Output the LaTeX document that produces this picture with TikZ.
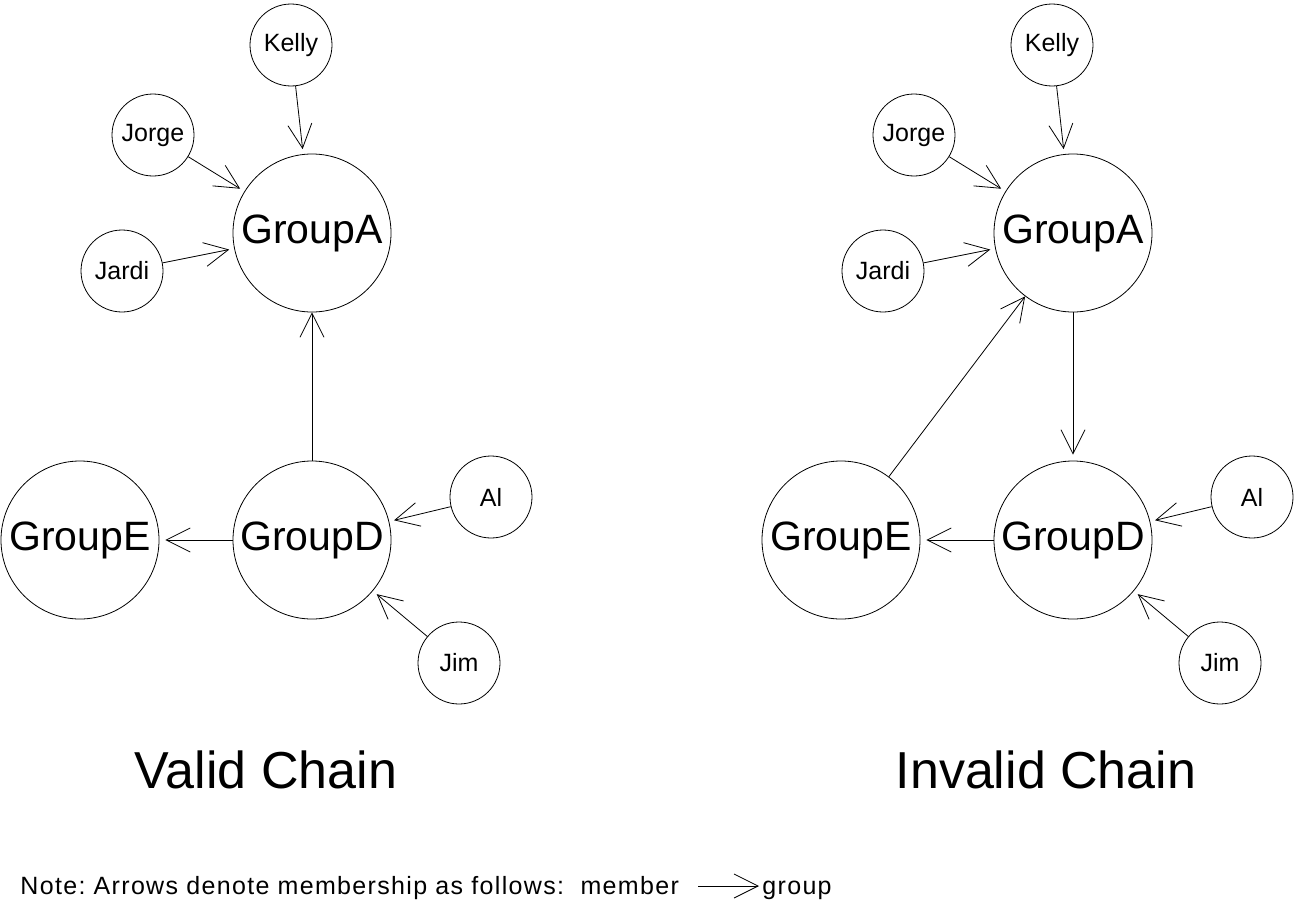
\documentclass[tikz,border=0pt]{standalone}
\usepackage{fontspec}
\setmainfont{Liberation Sans}
\usetikzlibrary{arrows.meta}
\frenchspacing
\begin{document}
\begin{tikzpicture}[x=1pt,y=-1pt,line width=0.8pt,
  small/.style={circle,draw,minimum size=82pt,inner sep=0pt,font=\fontsize{25}{25}\selectfont},
  big/.style={circle,draw,minimum size=158pt,inner sep=0pt,font=\fontsize{41}{41}\selectfont},
  arr/.style={-{Straight Barb[length=24pt,width=24pt,line width=0.8pt]}},
  marr/.style={arr,shorten >=5pt},
  title/.style={font=\fontsize{52}{52}\selectfont,anchor=base},
  notetext/.style={anchor=base west,inner sep=0pt,font=\fontsize{25}{25}\selectfont\addfontfeature{LetterSpace=5.3}},
]
\useasboundingbox (0,0) rectangle (1296,902);
% ---------- left: valid chain ----------
\node[small] (k1) at (291,45) {Kelly};
\node[small] (jo1) at (153,135) {Jorge};
\node[small] (ja1) at (122,271) {Jardi};
\node[big] (a1) at (312,233) {GroupA};
\node[big] (d1) at (312,540) {GroupD};
\node[big] (e1) at (80,540) {GroupE};
\node[small] (al1) at (491,497) {Al};
\node[small] (ji1) at (459,663) {Jim};
\draw[marr] (k1) -- (a1);
\draw[marr] (jo1) -- (a1);
\draw[marr] (ja1) -- (a1);
\draw[arr] (d1) -- (a1);
\draw[arr,shorten >=6pt] (d1) -- (e1);
\draw[marr] (al1) -- (d1);
\draw[marr] (ji1) -- (d1);
\node[title] (t1) at (266,788) {Valid Chain};
% ---------- right: invalid chain ----------
\node[small] (k2) at (1052,45) {Kelly};
\node[small] (jo2) at (914,135) {Jorge};
\node[small] (ja2) at (883,271) {Jardi};
\node[big] (a2) at (1073,233) {GroupA};
\node[big] (d2) at (1073,540) {GroupD};
\node[big] (e2) at (841,540) {GroupE};
\node[small] (al2) at (1252,497) {Al};
\node[small] (ji2) at (1220,663) {Jim};
\draw[marr] (k2) -- (a2);
\draw[marr] (jo2) -- (a2);
\draw[marr] (ja2) -- (a2);
\draw[arr,shorten >=6pt] (a2) -- (d2);
\draw[arr] (e2) -- (a2);
\draw[arr,shorten >=6pt] (d2) -- (e2);
\draw[marr] (al2) -- (d2);
\draw[marr] (ji2) -- (d2);
\node[title] (t2) at (1046,788) {Invalid Chain};
% ---------- note ----------
\node[notetext] (note) at (20,894) {Note: Arrows denote membership as follows:\ \ member};
\coordinate (na) at (698,886);
\coordinate (nb) at (759,886);
\draw[arr] (na) -- (nb);
\node[notetext] (grp) at (762,894) {group};
\end{tikzpicture}
\end{document}
